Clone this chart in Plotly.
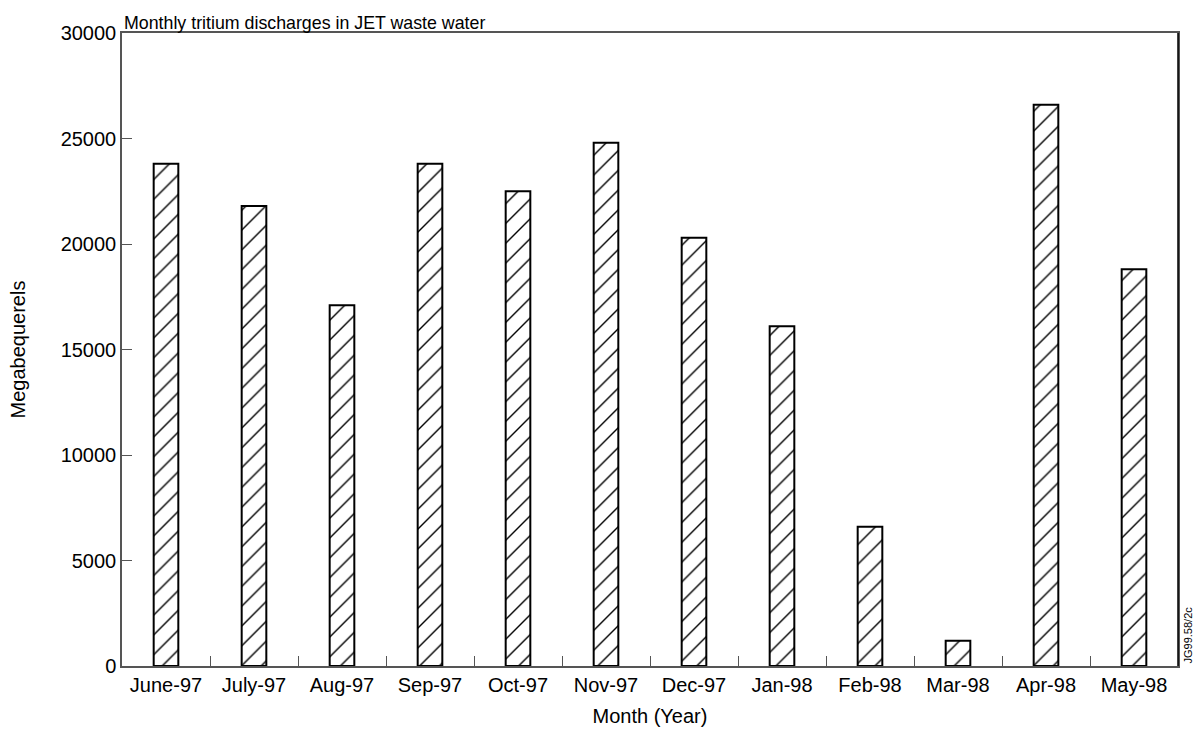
import plotly.graph_objects as go

months = ["June-97", "July-97", "Aug-97", "Sep-97", "Oct-97", "Nov-97",
          "Dec-97", "Jan-98", "Feb-98", "Mar-98", "Apr-98", "May-98"]
discharges = [23800, 21800, 17100, 23800, 22500, 24800,
              20300, 16100, 6600, 1200, 26600, 18800]
y_ticks = [0, 5000, 10000, 15000, 20000, 25000, 30000]
y_tick_labels = [str(v) for v in y_ticks]

FONT = "Liberation Sans, Arial, sans-serif"

fig = go.Figure(go.Bar(
    x=months, y=discharges, width=0.28,
    marker=dict(color="white",
                line=dict(color="black", width=2),
                pattern=dict(shape="/", fgcolor="#000000", bgcolor="white",
                             fgopacity=1, size=14, solidity=0.1)),
    showlegend=False,
))

fig.update_layout(
    width=1195, height=736,
    margin=dict(l=122, r=17, t=33, b=66),
    plot_bgcolor="white", paper_bgcolor="white",
    font=dict(family=FONT, size=20, color="black"),
    xaxis=dict(
        type="category", showline=True, linecolor="#555", linewidth=1.5,
        mirror=True, ticks="inside", ticklen=10, tickcolor="#555",
        tickson="boundaries", showgrid=False,
        tickfont=dict(size=20),
        title=dict(text="Month (Year)", font=dict(size=20), standoff=14),
    ),
    yaxis=dict(
        range=[0, 30000], tickvals=y_ticks, ticktext=y_tick_labels,
        showline=True, linecolor="#555",
        linewidth=1.5, mirror=True, ticks="inside", ticklen=10, tickcolor="#555",
        showgrid=False, zeroline=False, tickfont=dict(size=20),
        title=dict(text="Megabequerels", font=dict(size=20), standoff=30),
    ),
)

fig.add_annotation(text="Monthly tritium discharges in JET waste water",
                   xref="paper", yref="paper", x=0, y=1, xanchor="left",
                   yanchor="bottom", yshift=-2, showarrow=False,
                   font=dict(size=17.8))
fig.add_shape(type="line", xref="paper", yref="paper", x0=1, x1=1, y0=0, y1=1,
              line=dict(color="black", width=1.5))
fig.add_annotation(text="JG99.58/2c", xref="paper", yref="paper", x=1, y=0,
                   xanchor="left", yanchor="bottom", xshift=1, textangle=-90,
                   showarrow=False, font=dict(size=11))

fig.write_html("out.html", config={"displayModeBar": False},
               post_script="document.body.style.margin='0px';")
